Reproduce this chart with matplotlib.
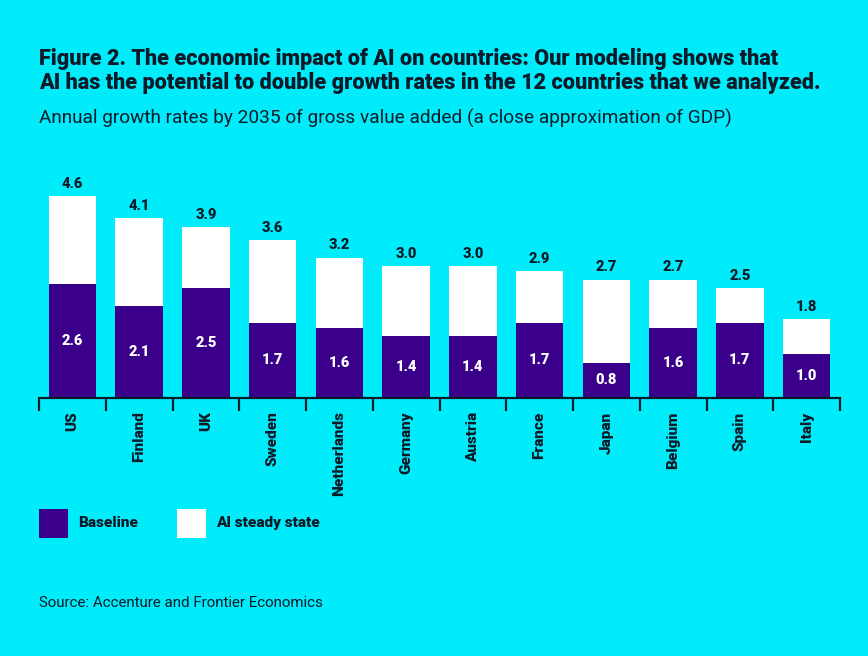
import numpy as np
import matplotlib.pyplot as plt
from matplotlib.patches import Rectangle

countries = ["US", "Finland", "UK", "Sweden", "Netherlands", "Germany",
             "Austria", "France", "Japan", "Belgium", "Spain", "Italy"]
baseline = [2.6, 2.1, 2.5, 1.7, 1.6, 1.4, 1.4, 1.7, 0.8, 1.6, 1.7, 1.0]
ai_total = [4.6, 4.1, 3.9, 3.6, 3.2, 3.0, 3.0, 2.9, 2.7, 2.7, 2.5, 1.8]

bg = "#00ECFA"
purple = "#3A0089"
ink = "#0C1B2A"
heavy = 900

W, H = 868, 656
fig = plt.figure(figsize=(W / 100, H / 100), dpi=100, facecolor=bg)

# axes: baseline at y=397px, 43.7 px per unit
ax_bottom = 397.5
ax_top = 180
ax = fig.add_axes([39 / W, 1 - ax_bottom / H, (840 - 39) / W, (ax_bottom - ax_top) / H])
ax.set_facecolor(bg)
ax.set_ylim(0, (ax_bottom - ax_top) / 43.7)
ax.set_xlim(-0.5, len(countries) - 0.5)

x = np.arange(len(countries))
top_part = np.array(ai_total) - np.array(baseline)
ax.bar(x, baseline, width=0.71, color=purple, zorder=2)
ax.bar(x, top_part, bottom=baseline, width=0.71, color="white", zorder=2)

for i in range(len(countries)):
    ax.text(x[i], ai_total[i] + 0.12, f"{ai_total[i]:.1f}", ha="center", va="bottom",
            fontsize=10.5, fontweight=heavy, color=ink, family="Roboto")
    ax.text(x[i], baseline[i] / 2, f"{baseline[i]:.1f}", ha="center", va="center",
            fontsize=10.5, fontweight=heavy, color="white", family="Roboto")

for s in ["top", "right", "left"]:
    ax.spines[s].set_visible(False)
ax.spines["bottom"].set_color(ink)
ax.spines["bottom"].set_linewidth(1.6)
ax.set_yticks([])
ax.set_xticks(x)
ax.set_xticklabels(countries, rotation=90, fontsize=11, fontweight=heavy,
                   color=ink, family="Roboto", va="top")
ax.tick_params(axis="x", which="major", length=0, pad=10)
ax.set_xticks(np.arange(-0.5, len(countries)), minor=True)
ax.tick_params(axis="x", which="minor", length=9, width=1.6, color=ink)

# titles
fig.text(39 / W, 1 - 65 / H, "Figure 2. The economic impact of AI on countries: Our modeling shows that",
         fontsize=15.6, fontweight=heavy, color=ink, family="Roboto", va="baseline")
fig.text(39 / W, 1 - 89 / H, "AI has the potential to double growth rates in the 12 countries that we analyzed.",
         fontsize=15.6, fontweight=heavy, color=ink, family="Roboto", va="baseline")
fig.text(39 / W, 1 - 124 / H, "Annual growth rates by 2035 of gross value added (a close approximation of GDP)",
         fontsize=13.7, color=ink, family="Roboto", va="baseline")

# legend
fig.patches.append(Rectangle((39 / W, 1 - 538 / H), 29 / W, 29 / H, transform=fig.transFigure,
                             facecolor=purple, edgecolor="none"))
fig.text(78 / W, 1 - 523 / H, "Baseline", fontsize=11, fontweight=heavy, color=ink,
         family="Roboto", va="center")
fig.patches.append(Rectangle((177 / W, 1 - 538 / H), 29 / W, 29 / H, transform=fig.transFigure,
                             facecolor="white", edgecolor="none"))
fig.text(216 / W, 1 - 523 / H, "AI steady state", fontsize=11, fontweight=heavy, color=ink,
         family="Roboto", va="center")

fig.text(39 / W, 1 - 607 / H, "Source: Accenture and Frontier Economics",
         fontsize=10.9, color=ink, family="Roboto", va="baseline")

fig.savefig("out.png", dpi=100, facecolor=bg)
